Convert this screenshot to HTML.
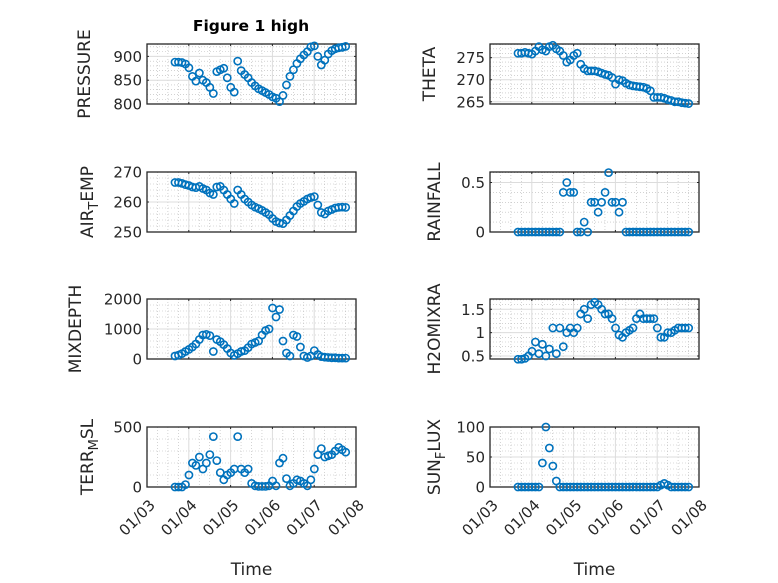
<!DOCTYPE html>
<html><head><meta charset="utf-8"><style>
body{margin:0;background:#fff}
svg{display:block;font-family:"DejaVu Sans","Liberation Sans",sans-serif}
</style></head><body>
<svg id="fig" width="778" height="583" viewBox="0 0 778 583">
<rect width="778" height="583" fill="#fff"/>
<text x="251" y="31" text-anchor="middle" font-weight="bold" font-size="15.5" fill="#000">Figure 1 high</text>
</svg>
<script>
const days = ["01/03","01/04","01/05","01/06","01/07","01/08"];
const pressure = [888,888,887,884,876,858,848,865,850,845,835,822,868,872,875,855,835,825,890,870,862,855,845,838,832,828,824,820,815,812,805,818,840,858,872,885,895,903,910,920,922,900,882,892,905,912,916,918,919,921];
const theta = [276,276,276.2,276,275.8,276.5,277.5,276.8,276.5,277.5,277.8,277,276.5,275.5,274,274.5,275.5,276,273.5,272.5,272,272,272,271.8,271.5,271.2,271,270.5,269,270,269.8,269.2,268.8,268.6,268.5,268.4,268.3,268,267.5,266,266,266,265.8,265.5,265.3,265,265,264.8,264.7,264.6];
const airTemp = [266.5,266.5,266.2,265.8,265.5,265,264.8,265.2,264.5,264,263,262.5,265,265.2,264,262.5,261,259.5,264,262.5,261,260,259,258.3,257.8,257.2,256.5,255.8,254.5,253.5,253,252.8,254,255.5,257,258.5,259.5,260.2,261,261.5,261.8,259,256.5,256,257,257.5,258,258.2,258.3,258.2];
const rainfall = [0,0,0,0,0,0,0,0,0,0,0,0,0,0.4,0.5,0.4,0.4,0,0,0.1,0,0.3,0.3,0.2,0.3,0.4,0.6,0.3,0.3,0.2,0.3,0,0,0,0,0,0,0,0,0,0,0,0,0,0,0,0,0,0,0];
const mixDepth = [100,130,180,250,320,400,500,650,800,820,780,250,650,580,480,350,200,120,180,250,280,380,500,550,600,800,950,1000,1700,1400,1650,600,200,100,800,750,400,100,50,100,280,150,80,60,50,40,40,30,30,30];
const h2oMix = [.43,.43,.45,.5,.6,.8,.55,.75,.5,.65,1.1,.55,1.1,.7,1.0,1.1,1.0,1.1,1.4,1.5,1.3,1.6,1.65,1.6,1.5,1.4,1.4,1.3,1.1,.95,.9,1.0,1.05,1.1,1.3,1.4,1.3,1.3,1.3,1.3,1.1,.9,.9,1.0,1.0,1.05,1.1,1.1,1.1,1.1];
const terrMsl = [0,0,0,20,100,200,180,250,150,200,270,420,220,120,60,100,120,150,420,150,120,150,30,10,5,5,5,10,50,10,200,240,70,10,30,60,50,30,10,60,150,270,320,250,260,270,300,330,310,290];
const sunFlux = [0,0,0,0,0,0,0,40,100,65,35,10,0,0,0,0,0,0,0,0,0,0,0,0,0,0,0,0,0,0,0,0,0,0,0,0,0,0,0,0,0,3,6,3,0,0,0,0,0,0];
const startDay = 0.67, stepDay = 1/12;

const NS="http://www.w3.org/2000/svg";
const svg=document.getElementById('fig');
function mk(tag,attrs,parent){const e=document.createElementNS(NS,tag);for(const k in attrs)e.setAttribute(k,attrs[k]);(parent||svg).appendChild(e);return e;}

const panels=[
 {name:'pressure',data:pressure,x0:147,y0:44,ymin:800,ymax:926,ticks:[800,850,900],lab:['PRESSURE'],lx:91},
 {name:'theta',data:theta,x0:490,y0:44,ymin:264.5,ymax:278.1,ticks:[265,270,275],lab:['THETA'],lx:436},
 {name:'air-temp',data:airTemp,x0:147,y0:172,ymin:250,ymax:270,ticks:[250,260,270],lab:['AIR','T','EMP'],lx:94},
 {name:'rainfall',data:rainfall,x0:490,y0:172,ymin:0,ymax:0.606,ticks:[0,0.5],lab:['RAINFALL'],lx:441},
 {name:'mixdepth',data:mixDepth,x0:147,y0:299,ymin:0,ymax:2000,ticks:[0,1000,2000],lab:['MIXDEPTH'],lx:82},
 {name:'h2omixra',data:h2oMix,x0:490,y0:299,ymin:0.436,ymax:1.72,ticks:[0.5,1,1.5],lab:['H2OMIXRA'],lx:441},
 {name:'terr-msl',data:terrMsl,x0:147,y0:427,ymin:0,ymax:500,ticks:[0,500],lab:['TERR','M','SL'],lx:94,bottom:true},
 {name:'sun-flux',data:sunFlux,x0:490,y0:427,ymin:0,ymax:100,ticks:[0,50,100],lab:['SUN','F','LUX'],lx:441,bottom:true}
];
const W=209,H=60;
panels.forEach(p=>{
 const g=mk('g',{});
 
 
 const xs=d=>p.x0+d/5*W;
 const ys=v=>p.y0+H-(v-p.ymin)/(p.ymax-p.ymin)*H;
 for(let d=0;d<5;d+=0.25){ if(Math.abs(d-Math.round(d))<1e-6) continue;
  mk('line',{x1:xs(d),x2:xs(d),y1:p.y0,y2:p.y0+H,stroke:'#b8b8b8','stroke-width':0.6,'stroke-dasharray':'1,2'},g);}
 const tstep=p.ticks.length>1?(p.ticks[1]-p.ticks[0]):p.ymax;
 const mstep=tstep/5;
 for(let v=p.ticks[0]-tstep;v<=p.ymax+1e-9;v+=mstep){ if(v<p.ymin||v>p.ymax) continue;
  let onMajor=p.ticks.some(t=>Math.abs(t-v)<1e-6); if(onMajor) continue;
  mk('line',{x1:p.x0,x2:p.x0+W,y1:ys(v),y2:ys(v),stroke:'#b8b8b8','stroke-width':0.6,'stroke-dasharray':'1,2'},g);}
 for(let d=1;d<5;d++) mk('line',{x1:xs(d),x2:xs(d),y1:p.y0,y2:p.y0+H,stroke:'#dcdcdc','stroke-width':1},g);
 p.ticks.forEach(v=>{mk('line',{x1:p.x0,x2:p.x0+W,y1:ys(v),y2:ys(v),stroke:'#dcdcdc','stroke-width':1},g);
  const t=mk('text',{x:p.x0-5,y:ys(v)+5.5,'text-anchor':'end','font-size':15,fill:'#262626'},g);t.textContent=String(v);
  
  
  mk('line',{x1:p.x0,x2:p.x0+2,y1:ys(v),y2:ys(v),stroke:'#262626'},g);
  mk('line',{x1:p.x0+W,x2:p.x0+W-2,y1:ys(v),y2:ys(v),stroke:'#262626'},g);});
 for(let d=0;d<=5;d++){mk('line',{x1:xs(d),x2:xs(d),y1:p.y0+H,y2:p.y0+H-2,stroke:'#262626'},g);
  mk('line',{x1:xs(d),x2:xs(d),y1:p.y0,y2:p.y0+2,stroke:'#262626'},g);}
 mk('rect',{x:p.x0,y:p.y0,width:W,height:H,fill:'none',stroke:'#262626','stroke-width':1.3},g);
 p.data.forEach((v,i)=>{const c=mk('circle',{cx:xs(startDay+i*stepDay),cy:ys(v),r:3.6,fill:'none',stroke:'#0072BD','stroke-width':1.6},g);
  
  });
 const yl=mk('text',{transform:`translate(${p.lx-1},${p.y0+H/2}) rotate(-90)`,'text-anchor':'middle','font-size':17,fill:'#262626'},g);
 
 
 p.lab.forEach((s,k)=>{const ts=mk('tspan',{},yl);ts.textContent=s;
  if(k==1){ts.setAttribute('font-size','13');ts.setAttribute('dy','5');}
  if(k==2){ts.setAttribute('dy','-5');}});
 if(p.bottom){
  days.forEach((s,d)=>{const t=mk('text',{transform:`translate(${xs(d)+9},${p.y0+H+19}) rotate(-45)`,'text-anchor':'end','font-size':15,fill:'#262626'},g);t.textContent=s;
   
   });
  const xl=mk('text',{x:p.x0+W/2,y:575,'text-anchor':'middle','font-size':17,fill:'#262626'},g);xl.textContent='Time';
  
  
 }
});
</script>
</body></html>
